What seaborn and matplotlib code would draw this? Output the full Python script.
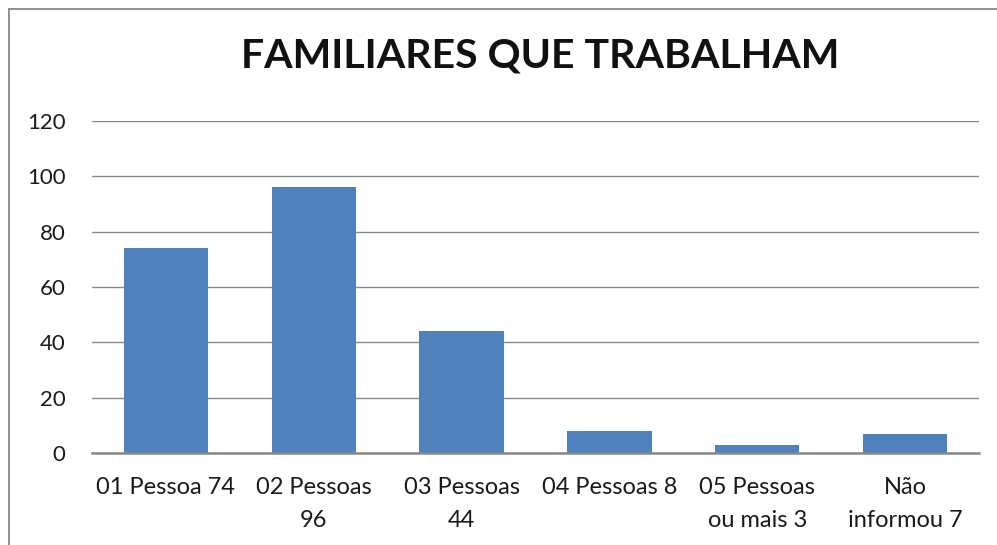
import matplotlib
matplotlib.use("Agg")
import matplotlib.pyplot as plt
import seaborn as sns
import pandas as pd
from matplotlib.lines import Line2D

categories = ["01 Pessoa 74", "02 Pessoas\n96", "03 Pessoas\n44", "04 Pessoas 8",
              "05 Pessoas\nou mais 3", "Não\ninformou 7"]
values = [74, 96, 44, 8, 3, 7]
yticks = [0, 20, 40, 60, 80, 100, 120]
title = "FAMILIARES QUE TRABALHAM"

sns.set_theme(style="white")
plt.rcParams['font.family'] = ['Lato', 'DejaVu Sans']

df = pd.DataFrame({"cat": categories, "val": values})

fig = plt.figure(figsize=(9.97, 5.45), dpi=100)
ax = fig.add_axes([92/997, (545-453)/545, (979-92)/997, (453-121)/545])

sns.barplot(data=df, x="cat", y="val", color="#4F81BD", saturation=1, width=0.57,
            ax=ax, zorder=3, edgecolor="none")

ax.set_ylim(0, 120)
ax.set_xlim(-0.5, len(categories) - 0.5)
ax.set_yticks(yticks)
ax.set_yticklabels([str(t) for t in yticks], fontsize=16, color="#1a1a1a")
ax.set_xticks(range(len(categories)))
ax.set_xticklabels(categories, fontsize=17, color="#1a1a1a", linespacing=1.7, va="top")
ax.tick_params(axis="y", length=0, pad=19)
ax.tick_params(axis="x", length=0, pad=17)
ax.set_xlabel("")
ax.set_ylabel("")
ax.grid(axis="y", color="#888888", linewidth=1.0, zorder=0)
for s in ["top", "right", "left"]:
    ax.spines[s].set_visible(False)
ax.spines["bottom"].set_color("#888888")
ax.spines["bottom"].set_linewidth(1.8)
ax.spines["bottom"].set_zorder(4)

fig.text(540/997, 1 - 56/545, title, ha="center", va="center", fontsize=29.5,
         fontweight="bold", color="#111111")

fig.add_artist(Line2D([8.5/997, 8.5/997], [0, 1 - 9/545], transform=fig.transFigure,
                      color="#888888", linewidth=1.3))
fig.add_artist(Line2D([8.5/997, 1.0], [1 - 9/545, 1 - 9/545], transform=fig.transFigure,
                      color="#888888", linewidth=1.3))

fig.savefig("out.png", dpi=100)
